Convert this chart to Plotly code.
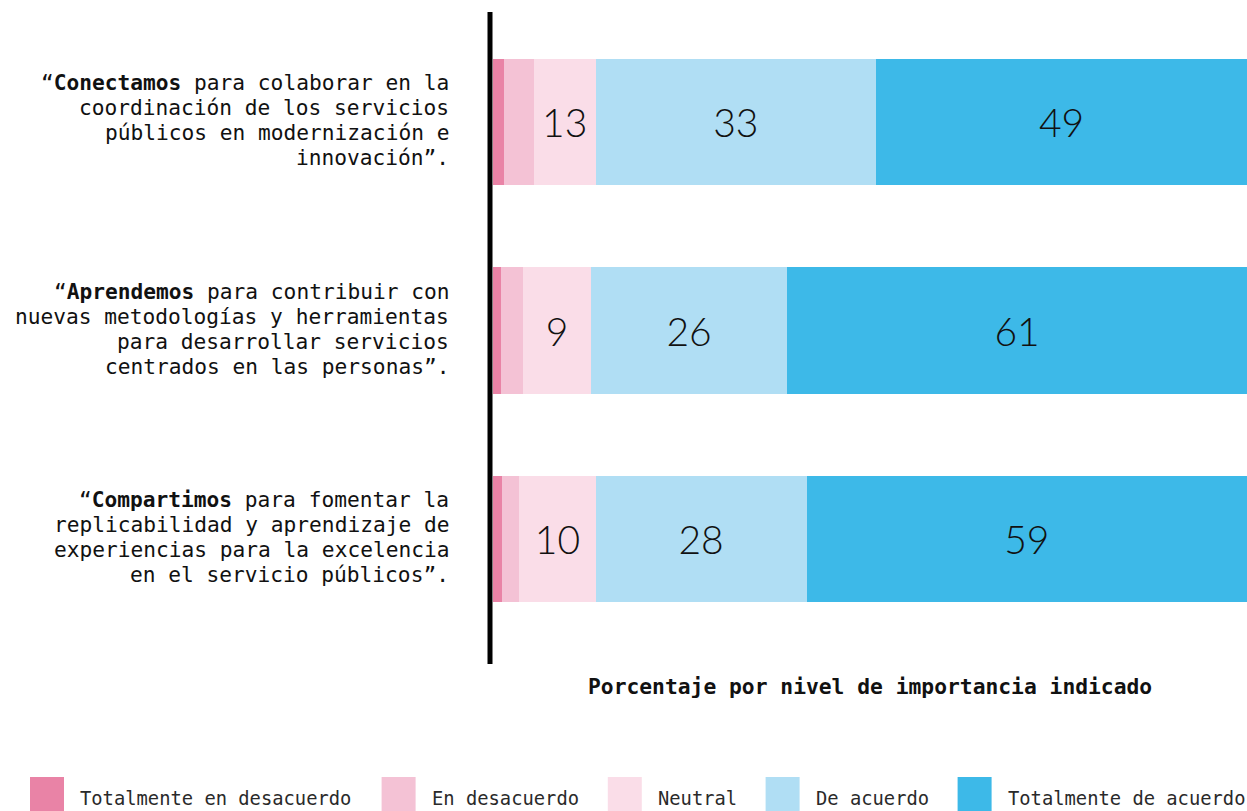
import plotly.graph_objects as go

# ---------------- data ----------------
categories = ["Conectamos", "Aprendemos", "Compartimos"]
label_lines = [
    ["“<b>Conectamos</b> para colaborar en la", "coordinación de los servicios",
     "públicos en modernización e", "innovación”."],
    ["“<b>Aprendemos</b> para contribuir con", "nuevas metodologías y herramientas",
     "para desarrollar servicios", "centrados en las personas”."],
    ["“<b>Compartimos</b> para fomentar la", "replicabilidad y aprendizaje de",
     "experiencias para la excelencia", "en el servicio públicos”."],
]
series_names = ["Totalmente en desacuerdo", "En desacuerdo", "Neutral",
                "De acuerdo", "Totalmente de acuerdo"]
totalmente_desacuerdo = [1.4, 1.1, 1.2]
en_desacuerdo = [4.0, 2.9, 2.3]
neutral = [8.2, 9.0, 10.1]
de_acuerdo = [37.2, 26.0, 28.0]
totalmente_acuerdo = [49.2, 61.0, 58.4]
series_values = [totalmente_desacuerdo, en_desacuerdo, neutral, de_acuerdo, totalmente_acuerdo]
# printed labels as shown in the chart
neutral_labels = ["13", "9", "10"]
de_acuerdo_labels = ["33", "26", "28"]
totalmente_acuerdo_labels = ["49", "61", "59"]
series_labels = [["", "", ""], ["", "", ""], neutral_labels, de_acuerdo_labels, totalmente_acuerdo_labels]
colors = ["#E983A6", "#F4C2D5", "#FADDE8", "#B0DEF4", "#3DB9E8"]
x_title = "Porcentaje por nivel de importancia indicado"

# ---------------- layout geometry ----------------
FW, FH = 1247, 811
L, T = 493, 18
W = FW - L
H = 625
B = FH - T - H

def xp(px):
    return (px - L) / W

def yp(py):
    return (T + H - py) / H

MONO = "DejaVu Sans Mono"

fig = go.Figure()
for name, vals, labs, col in zip(series_names, series_values, series_labels, colors):
    fig.add_trace(go.Bar(
        y=categories, x=vals, orientation="h", name=name,
        marker=dict(color=col, line=dict(width=0)),
        text=labs, textposition="inside", insidetextanchor="middle", textangle=0,
        textfont=dict(family="Lato", size=39, color="#111111", weight=300),
        constraintext="none", hoverinfo="x+name", showlegend=False,
    ))

annotations = []
# left category labels (one annotation per line, 25px spacing)
for cat, lines in zip(categories, label_lines):
    n = len(lines)
    for i, line in enumerate(lines):
        annotations.append(dict(
            x=0, xref="x", y=cat, yref="y", text=line, showarrow=False,
            xanchor="right", yanchor="middle", xshift=-(L - 451),
            yshift=((n - 1) / 2 - i) * 25 + 2,
            font=dict(family=MONO, size=21.2, color="#111111"),
        ))

# x-axis title
annotations.append(dict(
    x=0.5, xref="paper", y=yp(686), yref="paper", text="<b>" + x_title + "</b>",
    showarrow=False, xanchor="center", yanchor="middle",
    font=dict(family=MONO, size=21.3, color="#111111"),
))

shapes = []
# axis line on the left
shapes.append(dict(type="line", xref="paper", yref="paper",
                   x0=xp(490), x1=xp(490), y0=yp(12), y1=yp(664),
                   line=dict(color="#000000", width=5)))

# custom legend with large square keys
char_w = 11.4
cursor = 30
sq = 34
for name, col in zip(series_names, colors):
    shapes.append(dict(type="rect", xref="paper", yref="paper",
                       x0=xp(cursor), x1=xp(cursor + sq), y0=yp(777), y1=yp(777 + sq),
                       fillcolor=col, line=dict(width=0)))
    tx = cursor + 51
    annotations.append(dict(
        x=xp(tx - 3), xref="paper", y=yp(798), yref="paper", text=name,
        showarrow=False, xanchor="left", yanchor="middle",
        font=dict(family=MONO, size=18.8, color="#2a2a2a"),
    ))
    cursor = tx + len(name) * char_w + 27

fig.update_layout(
    width=FW, height=FH, autosize=False,
    margin=dict(l=L, r=0, t=T, b=B, pad=0),
    barmode="stack", bargap=0.395,
    plot_bgcolor="white", paper_bgcolor="white",
    xaxis=dict(range=[0, 100], showgrid=False, zeroline=False, showticklabels=False,
               ticks="", showline=False, fixedrange=True),
    yaxis=dict(range=[2.5, -0.5], showgrid=False, zeroline=False, showticklabels=False,
               ticks="", showline=False, fixedrange=True, type="category"),
    annotations=annotations, shapes=shapes,
    showlegend=False,
)

fig.write_html("out.html", config={"displayModeBar": False},
               post_script="document.body.style.margin='0';document.body.style.overflow='hidden';")
